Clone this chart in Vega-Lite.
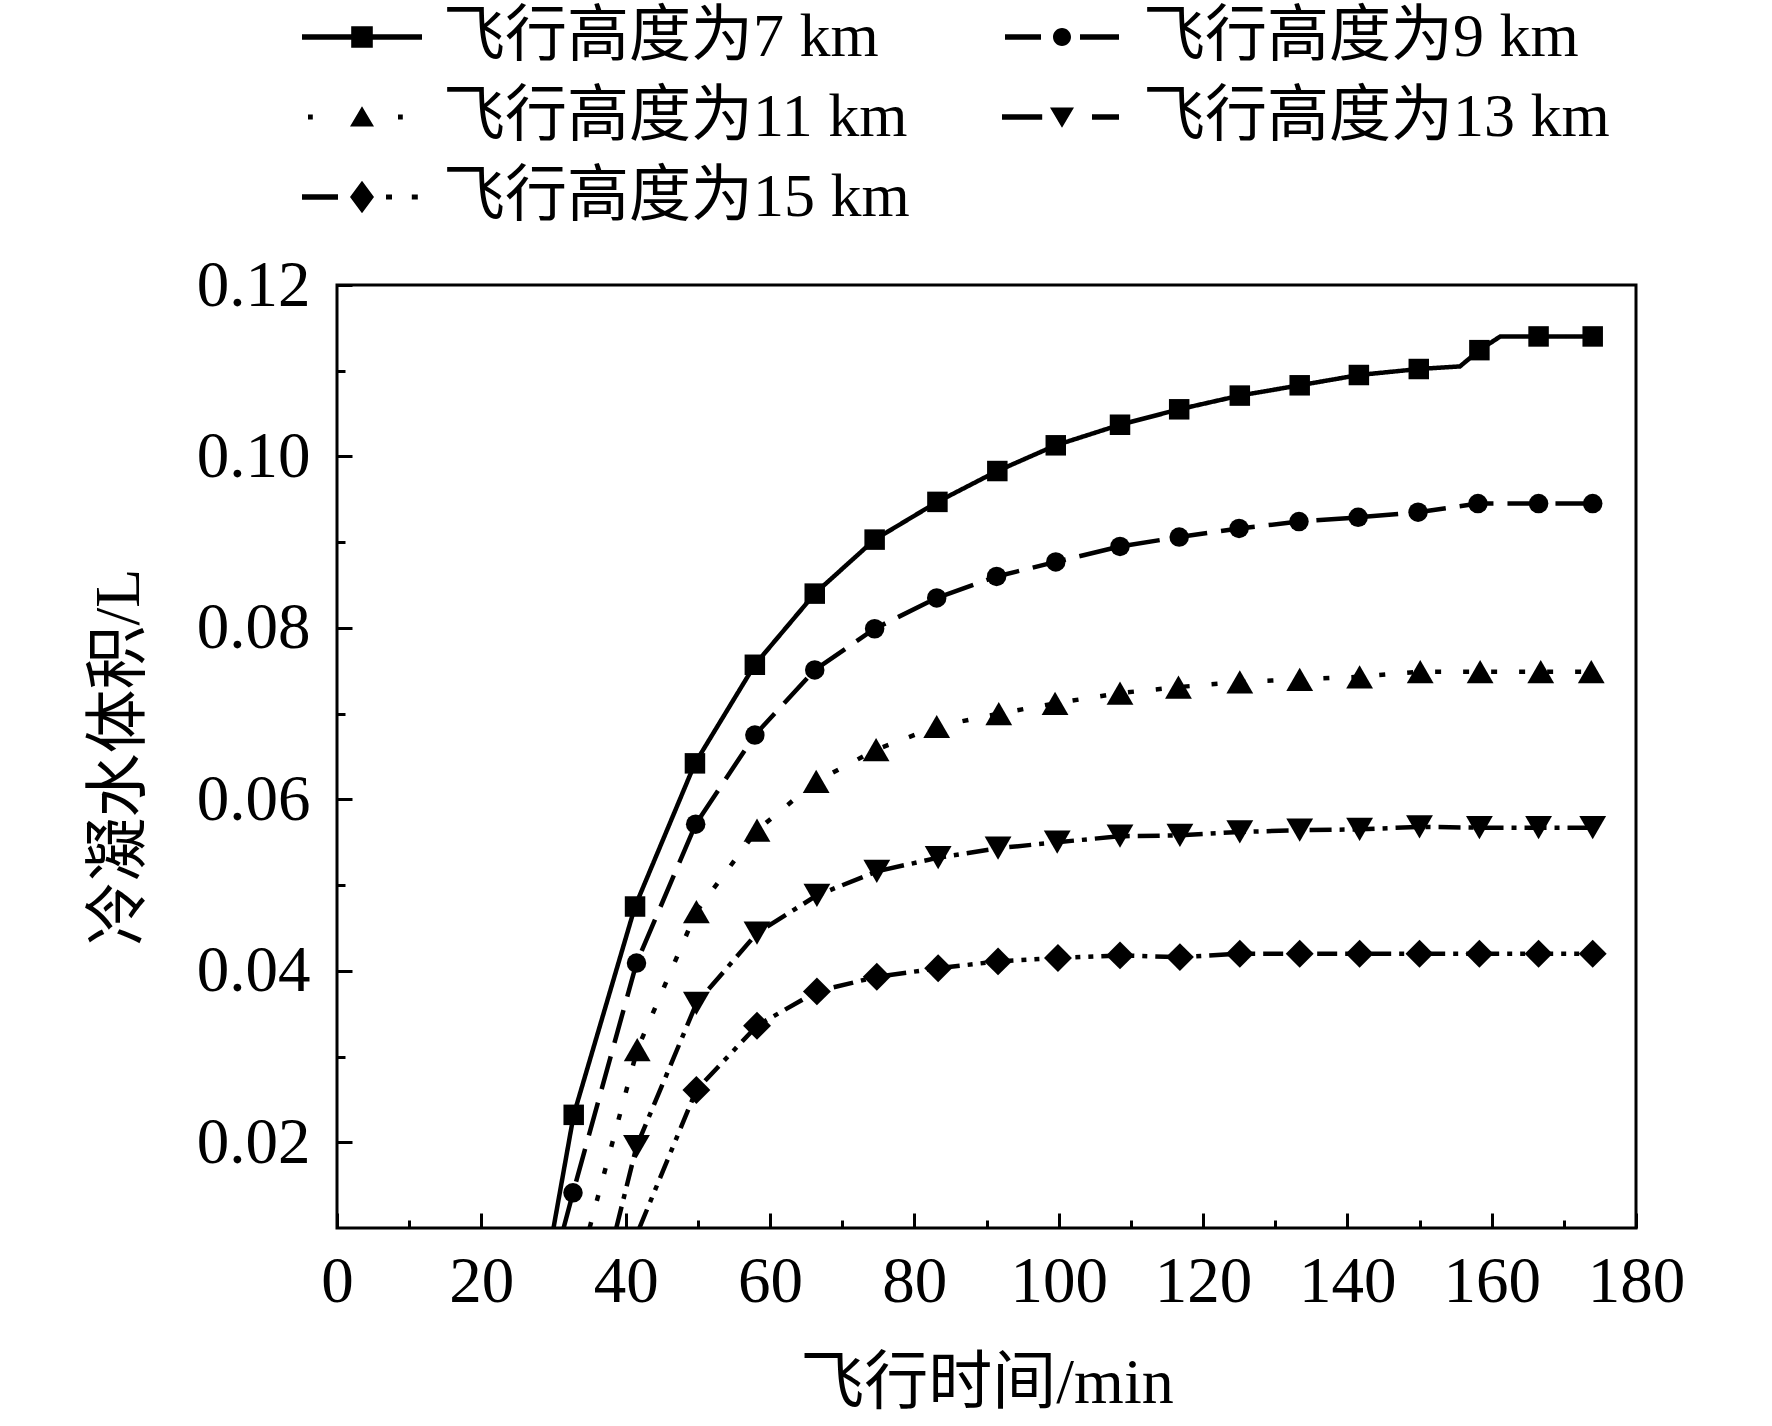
{
  "$schema": "https://vega.github.io/schema/vega-lite/v6.json",
  "width": 1299,
  "height": 943,
  "autosize": {"type": "none"},
  "padding": {"left": 337, "top": 285, "right": 136, "bottom": 198},
  "background": "white",
  "config": {
    "font": "'Liberation Serif', 'Noto Sans CJK SC', serif",
    "view": {"stroke": "black", "strokeWidth": 3},
    "axis": {
      "grid": false,
      "domain": false,
      "tickColor": "black",
      "tickWidth": 3,
      "labelColor": "black",
      "labelFontSize": 65,
      "labelOverlap": false,
      "labelFlush": false,
      "titleColor": "black",
      "titleFontSize": 64,
      "titleFontWeight": "normal"
    }
  },
  "data": {
    "values": [
      {"series": "飞行高度为7 km", "t": 30.0, "v": 0.0100, "kind": "path"},
      {"series": "飞行高度为7 km", "t": 32.8, "v": 0.0232, "kind": "marker"},
      {"series": "飞行高度为7 km", "t": 41.3, "v": 0.0475, "kind": "marker"},
      {"series": "飞行高度为7 km", "t": 49.6, "v": 0.0642, "kind": "marker"},
      {"series": "飞行高度为7 km", "t": 57.9, "v": 0.0757, "kind": "marker"},
      {"series": "飞行高度为7 km", "t": 66.2, "v": 0.0840, "kind": "marker"},
      {"series": "飞行高度为7 km", "t": 74.5, "v": 0.0903, "kind": "marker"},
      {"series": "飞行高度为7 km", "t": 83.2, "v": 0.0947, "kind": "marker"},
      {"series": "飞行高度为7 km", "t": 91.5, "v": 0.0983, "kind": "marker"},
      {"series": "飞行高度为7 km", "t": 99.6, "v": 0.1013, "kind": "marker"},
      {"series": "飞行高度为7 km", "t": 108.5, "v": 0.1037, "kind": "marker"},
      {"series": "飞行高度为7 km", "t": 116.7, "v": 0.1055, "kind": "marker"},
      {"series": "飞行高度为7 km", "t": 125.1, "v": 0.1071, "kind": "marker"},
      {"series": "飞行高度为7 km", "t": 133.4, "v": 0.1083, "kind": "marker"},
      {"series": "飞行高度为7 km", "t": 141.6, "v": 0.1095, "kind": "marker"},
      {"series": "飞行高度为7 km", "t": 149.9, "v": 0.1102, "kind": "marker"},
      {"series": "飞行高度为7 km", "t": 155.6, "v": 0.1105, "kind": "path"},
      {"series": "飞行高度为7 km", "t": 158.3, "v": 0.1124, "kind": "marker"},
      {"series": "飞行高度为7 km", "t": 161.2, "v": 0.1140, "kind": "path"},
      {"series": "飞行高度为7 km", "t": 166.5, "v": 0.1140, "kind": "marker"},
      {"series": "飞行高度为7 km", "t": 174.0, "v": 0.1140, "kind": "marker"},

      {"series": "飞行高度为9 km", "t": 31.4, "v": 0.0100, "kind": "path"},
      {"series": "飞行高度为9 km", "t": 32.7, "v": 0.0141, "kind": "marker"},
      {"series": "飞行高度为9 km", "t": 41.5, "v": 0.0409, "kind": "marker"},
      {"series": "飞行高度为9 km", "t": 49.7, "v": 0.0571, "kind": "marker"},
      {"series": "飞行高度为9 km", "t": 57.9, "v": 0.0675, "kind": "marker"},
      {"series": "飞行高度为9 km", "t": 66.2, "v": 0.0751, "kind": "marker"},
      {"series": "飞行高度为9 km", "t": 74.5, "v": 0.0799, "kind": "marker"},
      {"series": "飞行高度为9 km", "t": 83.1, "v": 0.0835, "kind": "marker"},
      {"series": "飞行高度为9 km", "t": 91.4, "v": 0.0860, "kind": "marker"},
      {"series": "飞行高度为9 km", "t": 99.6, "v": 0.0877, "kind": "marker"},
      {"series": "飞行高度为9 km", "t": 108.5, "v": 0.0895, "kind": "marker"},
      {"series": "飞行高度为9 km", "t": 116.7, "v": 0.0906, "kind": "marker"},
      {"series": "飞行高度为9 km", "t": 125.0, "v": 0.0916, "kind": "marker"},
      {"series": "飞行高度为9 km", "t": 133.3, "v": 0.0924, "kind": "marker"},
      {"series": "飞行高度为9 km", "t": 141.5, "v": 0.0929, "kind": "marker"},
      {"series": "飞行高度为9 km", "t": 149.8, "v": 0.0935, "kind": "marker"},
      {"series": "飞行高度为9 km", "t": 158.1, "v": 0.0945, "kind": "marker"},
      {"series": "飞行高度为9 km", "t": 166.5, "v": 0.0945, "kind": "marker"},
      {"series": "飞行高度为9 km", "t": 174.0, "v": 0.0945, "kind": "marker"},

      {"series": "飞行高度为11 km", "t": 35.0, "v": 0.0100, "kind": "path"},
      {"series": "飞行高度为11 km", "t": 41.6, "v": 0.0308, "kind": "marker"},
      {"series": "飞行高度为11 km", "t": 49.8, "v": 0.0469, "kind": "marker"},
      {"series": "飞行高度为11 km", "t": 58.2, "v": 0.0564, "kind": "marker"},
      {"series": "飞行高度为11 km", "t": 66.4, "v": 0.0621, "kind": "marker"},
      {"series": "飞行高度为11 km", "t": 74.7, "v": 0.0658, "kind": "marker"},
      {"series": "飞行高度为11 km", "t": 83.1, "v": 0.0685, "kind": "marker"},
      {"series": "飞行高度为11 km", "t": 91.7, "v": 0.0700, "kind": "marker"},
      {"series": "飞行高度为11 km", "t": 99.5, "v": 0.0712, "kind": "marker"},
      {"series": "飞行高度为11 km", "t": 108.5, "v": 0.0724, "kind": "marker"},
      {"series": "飞行高度为11 km", "t": 116.6, "v": 0.0731, "kind": "marker"},
      {"series": "飞行高度为11 km", "t": 125.1, "v": 0.0737, "kind": "marker"},
      {"series": "飞行高度为11 km", "t": 133.4, "v": 0.0740, "kind": "marker"},
      {"series": "飞行高度为11 km", "t": 141.7, "v": 0.0743, "kind": "marker"},
      {"series": "飞行高度为11 km", "t": 150.1, "v": 0.0749, "kind": "marker"},
      {"series": "飞行高度为11 km", "t": 158.4, "v": 0.0749, "kind": "marker"},
      {"series": "飞行高度为11 km", "t": 166.8, "v": 0.0749, "kind": "marker"},
      {"series": "飞行高度为11 km", "t": 173.8, "v": 0.0749, "kind": "marker"},

      {"series": "飞行高度为13 km", "t": 38.7, "v": 0.0100, "kind": "path"},
      {"series": "飞行高度为13 km", "t": 41.5, "v": 0.0195, "kind": "marker"},
      {"series": "飞行高度为13 km", "t": 49.8, "v": 0.0362, "kind": "marker"},
      {"series": "飞行高度为13 km", "t": 58.2, "v": 0.0444, "kind": "marker"},
      {"series": "飞行高度为13 km", "t": 66.5, "v": 0.0488, "kind": "marker"},
      {"series": "飞行高度为13 km", "t": 74.8, "v": 0.0516, "kind": "marker"},
      {"series": "飞行高度为13 km", "t": 83.3, "v": 0.0532, "kind": "marker"},
      {"series": "飞行高度为13 km", "t": 91.6, "v": 0.0543, "kind": "marker"},
      {"series": "飞行高度为13 km", "t": 99.8, "v": 0.0550, "kind": "marker"},
      {"series": "飞行高度为13 km", "t": 108.5, "v": 0.0557, "kind": "marker"},
      {"series": "飞行高度为13 km", "t": 116.8, "v": 0.0558, "kind": "marker"},
      {"series": "飞行高度为13 km", "t": 125.1, "v": 0.0562, "kind": "marker"},
      {"series": "飞行高度为13 km", "t": 133.4, "v": 0.0564, "kind": "marker"},
      {"series": "飞行高度为13 km", "t": 141.7, "v": 0.0565, "kind": "marker"},
      {"series": "飞行高度为13 km", "t": 150.0, "v": 0.0568, "kind": "marker"},
      {"series": "飞行高度为13 km", "t": 158.3, "v": 0.0567, "kind": "marker"},
      {"series": "飞行高度为13 km", "t": 166.5, "v": 0.0567, "kind": "marker"},
      {"series": "飞行高度为13 km", "t": 174.0, "v": 0.0567, "kind": "marker"},

      {"series": "飞行高度为15 km", "t": 41.9, "v": 0.0100, "kind": "path"},
      {"series": "飞行高度为15 km", "t": 49.8, "v": 0.0261, "kind": "marker"},
      {"series": "飞行高度为15 km", "t": 58.2, "v": 0.0336, "kind": "marker"},
      {"series": "飞行高度为15 km", "t": 66.5, "v": 0.0376, "kind": "marker"},
      {"series": "飞行高度为15 km", "t": 74.8, "v": 0.0393, "kind": "marker"},
      {"series": "飞行高度为15 km", "t": 83.3, "v": 0.0403, "kind": "marker"},
      {"series": "飞行高度为15 km", "t": 91.6, "v": 0.0411, "kind": "marker"},
      {"series": "飞行高度为15 km", "t": 99.9, "v": 0.0415, "kind": "marker"},
      {"series": "飞行高度为15 km", "t": 108.5, "v": 0.0418, "kind": "marker"},
      {"series": "飞行高度为15 km", "t": 116.8, "v": 0.0416, "kind": "marker"},
      {"series": "飞行高度为15 km", "t": 125.1, "v": 0.0420, "kind": "marker"},
      {"series": "飞行高度为15 km", "t": 133.4, "v": 0.0420, "kind": "marker"},
      {"series": "飞行高度为15 km", "t": 141.7, "v": 0.0420, "kind": "marker"},
      {"series": "飞行高度为15 km", "t": 150.0, "v": 0.0420, "kind": "marker"},
      {"series": "飞行高度为15 km", "t": 158.3, "v": 0.0420, "kind": "marker"},
      {"series": "飞行高度为15 km", "t": 166.5, "v": 0.0420, "kind": "marker"},
      {"series": "飞行高度为15 km", "t": 174.0, "v": 0.0420, "kind": "marker"}
    ]
  },
  "layer": [
    {
      "mark": {"type": "line", "color": "black", "strokeWidth": 4.5, "strokeCap": "butt", "clip": true},
      "encoding": {
        "x": {
          "field": "t",
          "type": "quantitative",
          "scale": {"domain": [0, 180], "nice": false},
          "axis": {
            "orient": "bottom",
            "values": [0, 20, 40, 60, 80, 100, 120, 140, 160, 180],
            "tickSize": -15,
            "labelPadding": 37,
            "title": "飞行时间/min",
            "titlePadding": 37
          }
        },
        "y": {
          "field": "v",
          "type": "quantitative",
          "scale": {"domain": [0.01, 0.12], "nice": false, "zero": false},
          "axis": {
            "orient": "left",
            "values": [0.02, 0.04, 0.06, 0.08, 0.1, 0.12],
            "format": ".2f",
            "tickSize": -15,
            "labelPadding": 42,
            "title": "冷凝水体积/L",
            "titlePadding": 45
          }
        },
        "strokeDash": {
          "field": "series",
          "type": "nominal",
          "scale": {
            "domain": ["飞行高度为15 km", "飞行高度为13 km", "飞行高度为11 km", "飞行高度为9 km", "飞行高度为7 km"],
            "range": [[20, 8, 5, 8, 5, 8], [22, 8, 5, 8], [6, 22], [34, 14], [1, 0]]
          },
          "legend": null
        }
      }
    },
    {
      "transform": [{"filter": "datum.kind === 'marker'"}],
      "mark": {"type": "point", "filled": true, "color": "black", "opacity": 1, "clip": true},
      "encoding": {
        "x": {
          "field": "t",
          "type": "quantitative",
          "axis": {
            "orient": "bottom",
            "values": [10, 30, 50, 70, 90, 110, 130, 150, 170],
            "tickSize": -8,
            "labels": false,
            "title": null
          }
        },
        "y": {
          "field": "v",
          "type": "quantitative",
          "axis": {
            "orient": "left",
            "values": [0.03, 0.05, 0.07, 0.09, 0.11],
            "tickSize": -8,
            "labels": false,
            "title": null
          }
        },
        "size": {
          "condition": [
            {"test": "datum.series === '飞行高度为7 km'", "value": 420},
            {"test": "datum.series === '飞行高度为9 km'", "value": 380},
            {"test": "datum.series === '飞行高度为15 km'", "value": 780}
          ],
          "value": 720
        },
        "shape": {
          "field": "series",
          "type": "nominal",
          "scale": {
            "domain": ["飞行高度为15 km", "飞行高度为13 km", "飞行高度为11 km", "飞行高度为9 km", "飞行高度为7 km"],
            "range": ["diamond", "triangle-down", "triangle-up", "circle", "square"]
          },
          "legend": null
        }
      }
    },
    {
      "transform": [{"filter": "datum.kind === 'legend'"}],
      "mark": {"type": "point", "filled": true, "color": "black", "opacity": 1},
      "encoding": {
        "x": {"field": "t", "type": "quantitative", "axis": null},
        "y": {"field": "v", "type": "quantitative", "axis": null},
        "shape": {
          "field": "series",
          "type": "nominal",
          "scale": {
            "domain": ["飞行高度为7 km", "飞行高度为9 km", "飞行高度为11 km", "飞行高度为13 km", "飞行高度为15 km"],
            "range": [
              "M-2,-0.09H2V0.09H-2Z M-0.36,-0.36H0.36V0.36H-0.36Z",
              "M-1.9,-0.09H-0.7V0.09H-1.9Z M-0.3,0A0.3,0.3 0 1,1 0.3,0A0.3,0.3 0 1,1 -0.3,0Z M0.6,-0.09H1.9V0.09H0.6Z",
              "M-1.8,-0.08H-1.64V0.08H-1.8Z M0,-0.36L0.4,0.32H-0.4Z M1.2,-0.08H1.36V0.08H1.2Z",
              "M-2,-0.09H-0.66V0.09H-2Z M-0.4,-0.32H0.4L0,0.36Z M1,-0.09H1.9V0.09H1Z",
              "M-2,-0.09H-0.8V0.09H-2Z M0,-0.54L0.4,0L0,0.54L-0.4,0Z M0.8,-0.08H1V0.08H0.8Z M1.66,-0.08H1.86V0.08H1.66Z"
            ]
          },
          "legend": {
            "title": null,
            "orient": "none",
            "legendX": -6,
            "legendY": -279,
            "direction": "horizontal",
            "columns": 2,
            "columnPadding": 92,
            "rowPadding": 18,
            "symbolSize": 3600,
            "symbolStrokeWidth": 0,
            "symbolFillColor": "black",
            "labelFontSize": 62,
            "labelColor": "black",
            "labelLimit": 2000,
            "labelOffset": 50
          }
        }
      }
    }
  ],
  "resolve": {
    "axis": {"x": "independent", "y": "independent"},
    "scale": {"shape": "independent"}
  }
}
